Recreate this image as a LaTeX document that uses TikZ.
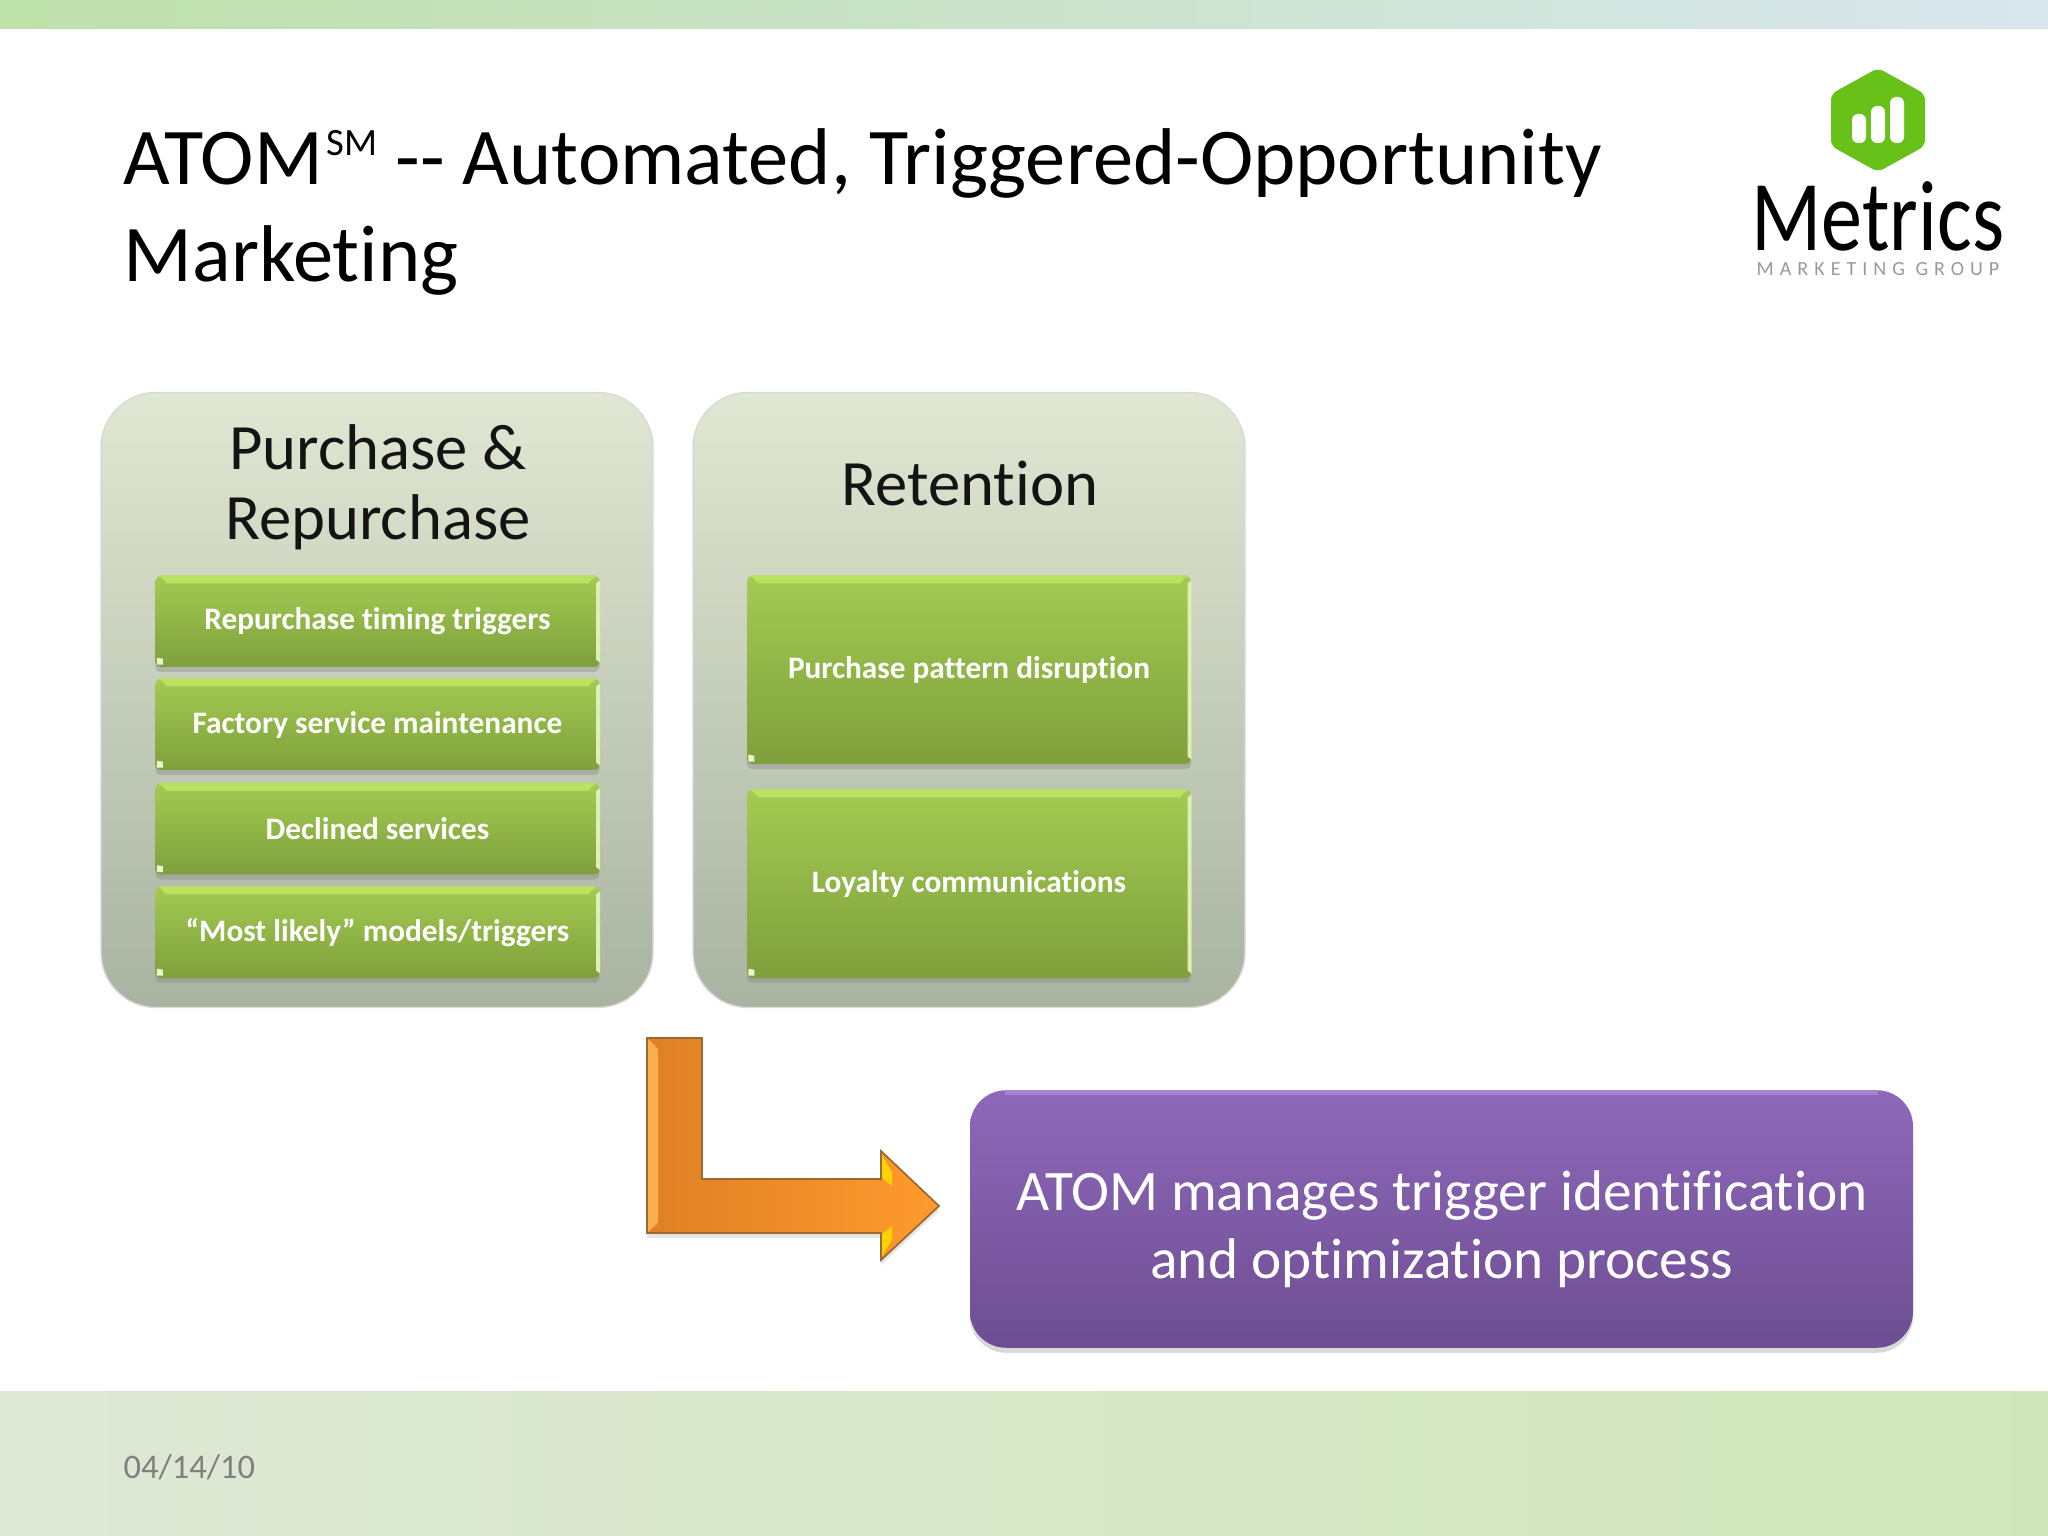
\documentclass[tikz,border=0pt]{standalone}
\usepackage{fontspec}
\setmainfont{Carlito}[Ligatures=NoCommon]
\usetikzlibrary{shadows}
\definecolor{panelTop}{HTML}{E0E7D3}
\definecolor{panelBot}{HTML}{A9B4A0}
\definecolor{leafTop}{HTML}{A2CB52}
\definecolor{leafBot}{HTML}{7F9F3C}
\definecolor{leafLit}{HTML}{BCE060}
\definecolor{plumTop}{HTML}{8E68BA}
\definecolor{plumBot}{HTML}{6D4E92}
\definecolor{plumLit}{HTML}{A283CC}
\definecolor{logoGreen}{HTML}{68C118}
\definecolor{bandTopL}{HTML}{BEE0AA}
\definecolor{bandTopR}{HTML}{D8E6EE}
\definecolor{bandBotL}{HTML}{DEE8D6}
\definecolor{bandBotR}{HTML}{D0E6BA}
\definecolor{arrowL}{HTML}{DE8024}
\definecolor{arrowR}{HTML}{FF9A2E}
\definecolor{arrowEdge}{HTML}{9A6A30}
\definecolor{arrowLit}{HTML}{FAB050}
\tikzset{
  panelbox/.style={rounded corners=.55cm,top color=panelTop,bottom color=panelBot,
    draw=white!85!black,line width=.4pt,minimum width=5.52cm,minimum height=6.15cm},
  paneltitle/.style={align=center,font=\fontsize{18.4}{19.9}\selectfont,text=black!92,inner sep=0pt},
  leafbox/.style={rounded corners=.05cm,top color=leafTop,bottom color=leafBot,text=white,
    font=\fontsize{8.9}{10}\bfseries\selectfont,inner sep=0pt,minimum width=4.44cm,
    drop shadow={shadow xshift=0cm,shadow yshift=-.05cm,opacity=.35}},
  plumbox/.style={rounded corners=.36cm,top color=plumTop,bottom color=plumBot,
    minimum width=9.43cm,minimum height=2.575cm,
    drop shadow={shadow xshift=0cm,shadow yshift=-.05cm,opacity=.3}},
  logobar/.style={fill=white,rounded corners=.06cm}
}
\begin{document}
\begin{tikzpicture}
\useasboundingbox (0,0) rectangle (20.48,-15.36);

  % bands
  \fill[left color=bandTopL,right color=bandTopR] (0,0) rectangle (20.48,-.29);
  \fill[left color=bandBotL,right color=bandBotR] (0,-13.91) rectangle (20.48,-15.36);

  % title and date
  \node[anchor=north west,align=left,inner sep=0pt,text=black,
    font=\fontsize{22.9}{27.6}\selectfont] (title) at (1.23,-1.28)
    {ATOM\kern1pt\raisebox{.36em}{\fontsize{11}{11}\selectfont SM} -{}- Automated, Triggered-Opportunity\\Marketing};
  \node[anchor=west,inner sep=0pt,text=black!50,font=\fontsize{9.8}{12}\selectfont] (date) at (1.23,-14.67) {04/14/10};

  % logo
  \fill[logoGreen,rounded corners=.06cm] (18.78,-.68) -- (19.25,-.94) -- (19.25,-1.46) -- (18.78,-1.72)
    -- (18.31,-1.46) -- (18.31,-.94) -- cycle;
  \fill[logobar] (18.52,-1.14) rectangle (18.66,-1.43);
  \fill[logobar] (18.71,-1.06) rectangle (18.85,-1.43);
  \fill[logobar] (18.90,-.97) rectangle (19.04,-1.43);
  \node[inner sep=0pt,font=\fontsize{28.5}{30}\selectfont\addfontfeature{FakeStretch=.82}] (logoname) at (18.78,-2.16) {Metrics};
  \node[inner sep=0pt,text=black!40,font=\fontsize{5.7}{7}\selectfont\addfontfeature{LetterSpace=30}] (logosub) at (18.78,-2.69) {MARKETING GROUP};

  % panels
  \node[panelbox] (buy) at (3.77,-7.0) {};
  \node[panelbox] (keep) at (9.69,-7.0) {};
  \node[paneltitle] (buytitle) at (3.78,-4.87) {Purchase \&\\Repurchase};
  \node[paneltitle] (keeptitle) at (9.70,-4.83) {Retention};

  \foreach \name/\xc/\yc/\boxh/\txt in {
    a/3.775/-6.215/.91/{Repurchase timing triggers},
    b/3.775/-7.245/.91/{Factory service maintenance},
    c/3.775/-8.29/.91/{Declined services},
    d/3.775/-9.325/.91/{“Most likely”  models/triggers},
    e/9.69/-6.70/1.88/{Purchase pattern disruption},
    f/9.69/-8.84/1.88/{Loyalty communications}}
  {
    \node[leafbox,minimum height=\boxh cm] (\name) at (\xc,\yc) {\txt};
    \fill[leafLit] ([xshift=.04cm]\name.north west) -- ([xshift=-.04cm]\name.north east)
      -- ([shift={(-.12,-.08)}]\name.north east) -- ([shift={(.12,-.08)}]\name.north west) -- cycle;
    \fill[leafLit!50!white] ([shift={(0,-.05)}]\name.north east) -- ([shift={(0,.05)}]\name.south east)
      -- ([shift={(-.04,.08)}]\name.south east) -- ([shift={(-.04,-.08)}]\name.north east) -- cycle;
    \fill[leafLit!30!white] ([shift={(.02,.03)}]\name.south west) -- ([shift={(.08,.03)}]\name.south west)
      -- ([shift={(.08,.09)}]\name.south west) -- ([shift={(.02,.1)}]\name.south west) -- cycle;
  }

  % arrow
  \draw[left color=arrowL,right color=arrowR,draw=arrowEdge,line width=.5pt,
    drop shadow={shadow xshift=0cm,shadow yshift=-.05cm,opacity=.2}]
    (6.47,-10.38) -- (7.02,-10.38) -- (7.02,-11.79) -- (8.81,-11.79) -- (8.81,-11.51)
    -- (9.39,-12.06) -- (8.81,-12.60) -- (8.81,-12.33) -- (6.47,-12.33) -- cycle;
  \fill[arrowLit] (6.48,-10.39) -- (6.58,-10.49) -- (6.58,-12.23) -- (6.48,-12.32) -- cycle;
  \fill[yellow!70!orange] (8.82,-11.55) -- (8.92,-11.72) -- (8.92,-11.86) -- (8.82,-11.78) -- cycle;
  \fill[yellow!70!orange] (8.82,-12.34) -- (8.92,-12.26) -- (8.92,-12.40) -- (8.82,-12.56) -- cycle;

  % result box
  \node[plumbox] (atom) at (14.415,-12.19) {};
  \fill[plumLit] ([xshift=.36cm]atom.north west) -- ([xshift=-.36cm]atom.north east)
    -- ([shift={(-.36,-.05)}]atom.north east) -- ([shift={(.36,-.05)}]atom.north west) -- cycle;
  \node[text=white,align=center,inner sep=0pt,font=\fontsize{16.3}{19.3}\selectfont] (atomtext) at (14.42,-12.29)
    {ATOM manages trigger identification\\and optimization process};
\end{tikzpicture}
\end{document}
